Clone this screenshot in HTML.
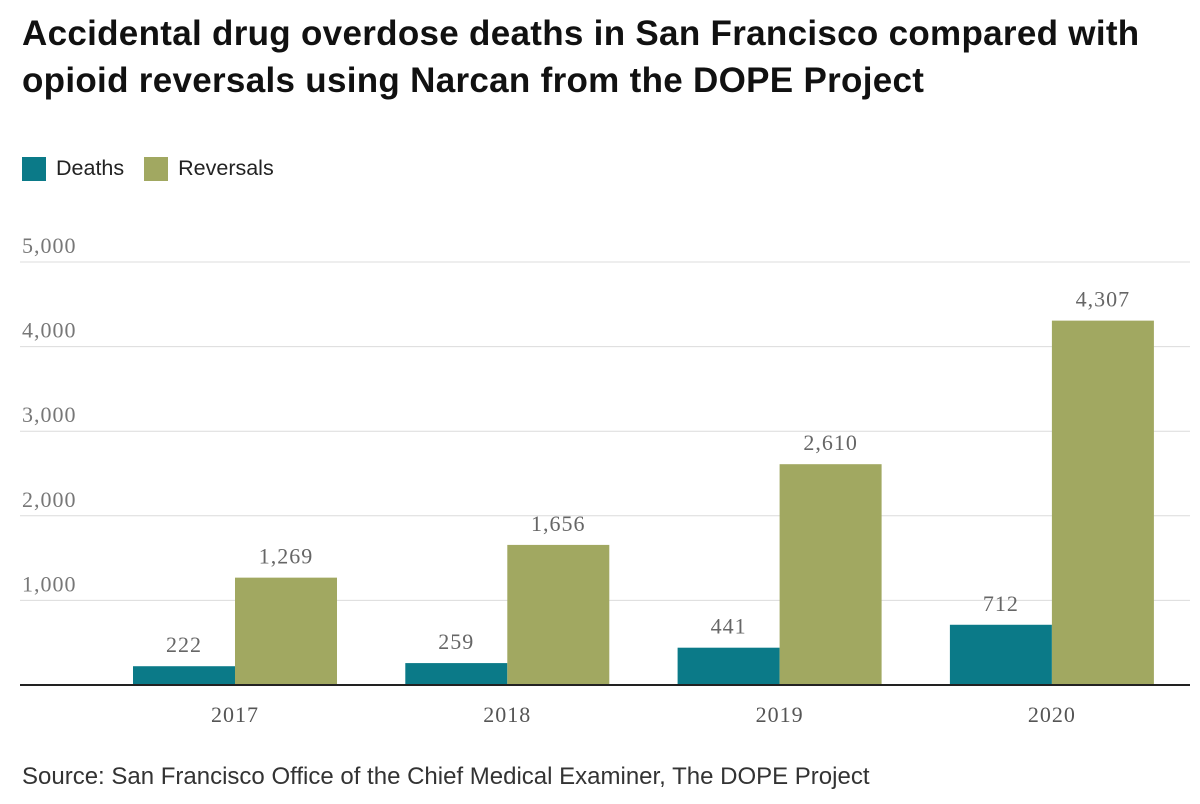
<!DOCTYPE html>
<html><head><meta charset="utf-8">
<style>
body{margin:0;width:1200px;height:804px;background:#fff;overflow:hidden;font-family:"Liberation Sans",sans-serif;}
#title{position:absolute;left:22px;top:10px;font-size:35px;font-weight:bold;line-height:47px;color:#111;letter-spacing:0.3px}
#legend{position:absolute;left:22px;top:156px;font-size:21.5px;color:#222;display:flex;align-items:center}
.sw{width:24px;height:24px;display:inline-block;margin-right:10px}
#source{position:absolute;left:22px;top:763px;font-size:24px;color:#333}
svg{position:absolute;left:0;top:0}
</style></head><body>
<div id="title">Accidental drug overdose deaths in San Francisco compared with<br>opioid reversals using Narcan from the DOPE Project</div>
<div id="legend">
<span class="sw" style="background:#0b7a88"></span><span style="margin-right:20px">Deaths</span>
<span class="sw" style="background:#a1a861"></span><span>Reversals</span>
</div>
<svg id="chart" width="1200" height="804"></svg>
<div id="source">Source: San Francisco Office of the Chief Medical Examiner, The DOPE Project</div>
<script>
const categories=["2017","2018","2019","2020"];
const deaths=[222,259,441,712];
const reversals=[1269,1656,2610,4307];
const yTicks=[1000,2000,3000,4000,5000];
const yTickLabels=["1,000","2,000","3,000","4,000","5,000"];
const deathLabels=["222","259","441","712"];
const reversalLabels=["1,269","1,656","2,610","4,307"];

const svg=document.getElementById('chart');
const NS="http://www.w3.org/2000/svg";
const base=685, top5000=262;
function y(v){return base-(base-top5000)*v/5000;}
function xc(i){return 235+i*272.3;}
const bw=102;
const F='"Liberation Serif",serif';
function mk(tag,attrs){const e=document.createElementNS(NS,tag);for(const k in attrs)e.setAttribute(k,attrs[k]);svg.appendChild(e);return e;}
yTicks.forEach((t,i)=>{
 const g=mk('line',{x1:20,x2:1190,y1:y(t),y2:y(t),stroke:'#dcdcdc','stroke-width':1});
 
 
 const tx=mk('text',{x:22,y:y(t)-9,'font-size':22,fill:'#777','font-family':F,'letter-spacing':1});
 tx.textContent=yTickLabels[i];
 
 
});
categories.forEach((c,i)=>{
 const c0=xc(i);
 const d=mk('rect',{x:c0-bw,y:y(deaths[i]),width:bw,height:base-y(deaths[i]),fill:'#0b7a88'});
 
 
 const r=mk('rect',{x:c0,y:y(reversals[i]),width:bw,height:base-y(reversals[i]),fill:'#a1a861'});
 
 
 const dl=mk('text',{x:c0-bw/2,y:y(deaths[i])-14,'font-size':22,fill:'#666','text-anchor':'middle','font-family':F,'letter-spacing':1});
 dl.textContent=deathLabels[i];
 
 
 const rl=mk('text',{x:c0+bw/2,y:y(reversals[i])-14,'font-size':22,fill:'#666','text-anchor':'middle','font-family':F,'letter-spacing':1});
 rl.textContent=reversalLabels[i];
 
 
 const xl=mk('text',{x:c0,y:722,'font-size':22,fill:'#555','text-anchor':'middle','font-family':F,'letter-spacing':1});
 xl.textContent=c;
 
 
});
const ax=mk('line',{x1:20,x2:1190,y1:base,y2:base,stroke:'#222','stroke-width':2});


</script>
</body></html>
